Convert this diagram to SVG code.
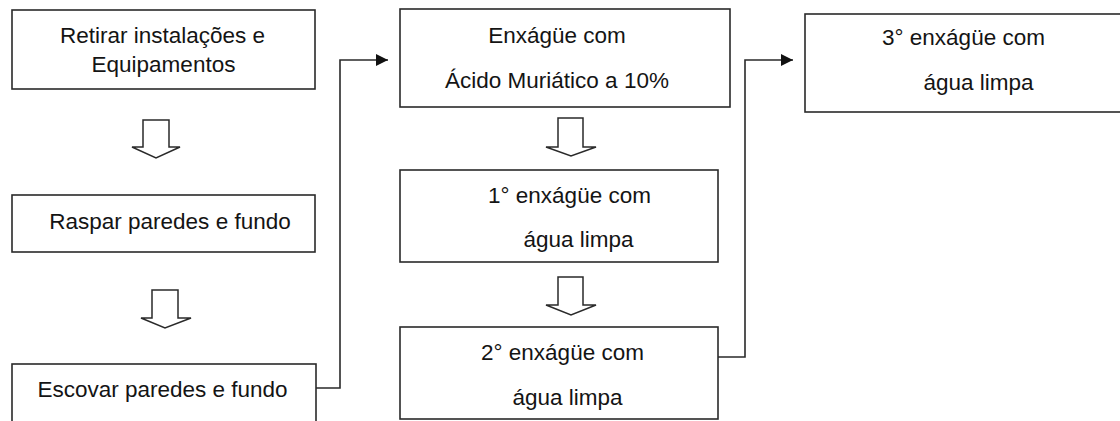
<svg xmlns="http://www.w3.org/2000/svg" width="1120" height="421" viewBox="0 0 1120 421">
  <style>
    .box { fill: #ffffff; stroke: #2a2a2a; stroke-width: 1.6; }
    .lbl { font-family: "Liberation Sans", Arial, sans-serif; font-size: 22.5px; fill: #141414; text-anchor: middle; }
    .down { fill: #ffffff; stroke: #2a2a2a; stroke-width: 1.5; stroke-linejoin: miter; }
    .conn { fill: none; stroke: #2a2a2a; stroke-width: 1.6; }
  </style>
  <defs>
    <marker id="arrow" viewBox="0 0 12 12" refX="12" refY="6" markerWidth="12" markerHeight="12" markerUnits="userSpaceOnUse" orient="auto">
      <path d="M0,0 L12,6 L0,12 Z" fill="#111"/>
    </marker>
  </defs>
  <rect width="1120" height="421" fill="#ffffff"/>

  <!-- left column -->
  <g id="n-retirar">
    <rect class="box" x="12" y="10" width="303" height="79"/>
    <text class="lbl" x="162.5" y="43">Retirar instalações e</text>
    <text class="lbl" x="163.5" y="72">Equipamentos</text>
  </g>
  <g id="n-raspar">
    <rect class="box" x="12" y="195" width="303" height="57"/>
    <text class="lbl" x="170" y="229">Raspar paredes e fundo</text>
  </g>
  <g id="n-escovar">
    <rect class="box" x="12" y="364" width="304" height="80"/>
    <text class="lbl" x="162.5" y="397">Escovar paredes e fundo</text>
  </g>

  <!-- middle column -->
  <g id="n-acido">
    <rect class="box" x="400" y="9" width="330" height="98"/>
    <text class="lbl" x="557" y="43">Enxágüe com</text>
    <text class="lbl" x="557" y="88">Ácido Muriático a 10%</text>
  </g>
  <g id="n-enxague1">
    <rect class="box" x="400" y="170" width="318" height="92"/>
    <text class="lbl" x="569.5" y="203">1° enxágüe com</text>
    <text class="lbl" x="578.5" y="247">água limpa</text>
  </g>
  <g id="n-enxague2">
    <rect class="box" x="400" y="327" width="318" height="92"/>
    <text class="lbl" x="562.5" y="360">2° enxágüe com</text>
    <text class="lbl" x="567.5" y="405">água limpa</text>
  </g>

  <!-- right column -->
  <g id="n-enxague3">
    <rect class="box" x="805" y="14" width="340" height="98"/>
    <text class="lbl" x="963.5" y="45">3° enxágüe com</text>
    <text class="lbl" x="978.5" y="90">água limpa</text>
  </g>

  <g id="connectors">
    <!-- hollow block arrows between steps -->
    <path class="down" d="M143,120 H169 V147 H180 L156,158 L132,147 H143 Z"/>
    <path class="down" d="M152,290 H178 V318 H191 L165,328 L141,318 H152 Z"/>
    <path class="down" d="M558,118 H583 V147 H596 L571,156 L546,147 H558 Z"/>
    <path class="down" d="M558,277 H583 V305 H596 L571,315 L546,305 H558 Z"/>
    <!-- elbow links to the next column -->
    <path class="conn" d="M316,388 H340 V60 H388" marker-end="url(#arrow)"/>
    <path class="conn" d="M718,357 H745 V60 H793" marker-end="url(#arrow)"/>
  </g>
</svg>
